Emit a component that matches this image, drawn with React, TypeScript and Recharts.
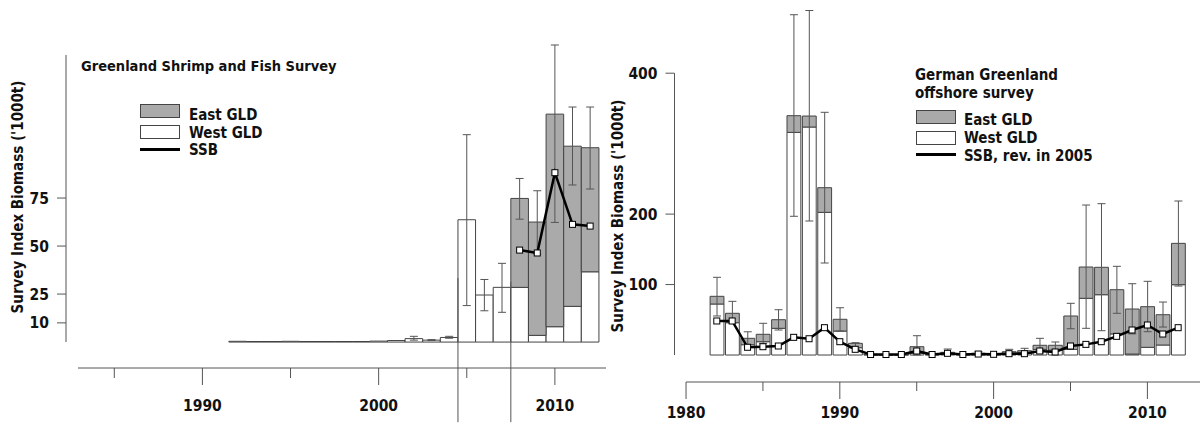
import React from 'react';
import { ComposedChart, Bar, Line, XAxis, YAxis, ErrorBar, ReferenceLine } from 'recharts';

// Greenland Shrimp and Fish Survey (left panel)
const shrimpYears = [1992, 1993, 1994, 1995, 1996, 1997, 1998, 1999, 2000, 2001, 2002, 2003, 2004, 2005, 2006, 2007, 2008, 2009, 2010, 2011, 2012];
const shrimpWest = [0.4, 0.3, 0.3, 0.4, 0.3, 0.3, 0.3, 0.3, 0.5, 0.8, 1.8, 1.0, 2.4, 63.7, 24.5, 28.5, 28.5, 3.5, 8, 18.6, 36.6];
const shrimpEast = [0, 0, 0, 0, 0, 0, 0, 0, 0, 0, 0, 0, 0, 0, 0, 0, 46.3, 59, 110.7, 83.4, 64.6];
const shrimpErrLow = [null, null, null, null, null, null, null, null, null, null, 1.0, 0.8, 2.0, 19, 16.3, 15.5, 64, 45.8, 62.3, 81.8, 79.7];
const shrimpErrHigh = [null, null, null, null, null, null, null, null, null, null, 3.0, 1.3, 3.0, 108, 32.6, 41, 85.2, 78.8, 154.7, 122.4, 122.4];
const shrimpSsb = [null, null, null, null, null, null, null, null, null, null, null, null, null, null, null, null, 47.9, 46.4, 88.2, 61.3, 60.4];

// German Greenland offshore survey (right panel)
const germanYears = [1982, 1983, 1984, 1985, 1986, 1987, 1988, 1989, 1990, 1991, 1992, 1993, 1994, 1995, 1996, 1997, 1998, 1999, 2000, 2001, 2002, 2003, 2004, 2005, 2006, 2007, 2008, 2009, 2010, 2011, 2012];
const germanWest = [72.4, 45.9, 14.6, 18.9, 37.9, 316, 323.6, 202.5, 34, 10.4, 0.5, 0.3, 0.3, 2.4, 0.5, 2, 0.5, 1, 0.5, 2.5, 3.5, 8, 7, 8, 80.5, 85.6, 30, 1.4, 10.9, 14.2, 99.8];
const germanEast = [10.9, 13.3, 9.1, 10.5, 12.2, 23.7, 15.6, 35, 16.7, 6.2, 0.5, 0.5, 0.3, 9.4, 0.5, 1.8, 0.7, 1.5, 0.7, 2.2, 2.6, 5.8, 6.8, 47.4, 44.4, 38.9, 62.7, 63.9, 57.7, 43, 58.7];
const germanErrLow = [55.4, 45, 11, 16.6, 35.5, 196.9, 190.2, 130.6, 34, 9.5, null, null, null, 0, null, 1, null, 0.5, null, 1.5, 2.5, 3, 6, 37.3, 37.9, 34.5, 59.2, 30, 33.1, 39.7, 97.9];
const germanErrHigh = [110.3, 76.2, 33, 45, 64.3, 483, 489, 344.5, 67.1, 17.5, null, null, null, 27.4, null, 8.5, null, 4.7, null, 8.1, 9.5, 23.7, 18.5, 73.4, 212.9, 214.8, 125.9, 101.2, 104.6, 75.2, 218.6];
const germanSsb = [48.3, 48.3, 11, 11.8, 12.8, 25.1, 23.1, 38.8, 18.9, 8.1, 0.7, 0.7, 0.7, 5.7, 0.7, 2.4, 0.7, 1.4, 1, 1.9, 1.9, 5.7, 4.3, 12.8, 15.1, 18.9, 26.5, 35.5, 42.6, 29.8, 38.8];

const FONT = "'DejaVu Sans Condensed', 'DejaVu Sans', sans-serif";
const AXIS = '#555';
const EDGE = '#444';
const GRAY = '#aaaaaa';
const INK = '#111';
const TICK_SIZE = 15.5;

function buildRows(years: number[], west: number[], east: number[], lo: (number | null)[], hi: (number | null)[], ssb: (number | null)[]) {
  return years.map((year, i) => {
    const total = west[i] + east[i];
    const l = lo[i];
    const h = hi[i];
    const err = l == null || h == null ? null : [total - l, h - total];
    // error bar goes on whichever bar forms the top of the stack
    return {
      year,
      west: west[i],
      east: east[i],
      errW: east[i] > 0 ? null : err,
      errE: east[i] > 0 ? err : null,
      ssb: ssb[i],
    };
  });
}

const squareDot = (size: number) => (props: any) => {
  const { cx, cy, index } = props;
  if (cx == null || cy == null || Number.isNaN(cy)) return <g key={`d${index}`} />;
  return (
    <rect key={`d${index}`} x={cx - size / 2} y={cy - size / 2} width={size} height={size}
      fill="#fff" stroke="#000" strokeWidth={1} />
  );
};

const yearTick = (majorLen: number, minorLen: number, labelDy: number) => (props: any) => {
  const { x, y, payload } = props;
  const major = payload.value % 10 === 0;
  return (
    <g>
      <line x1={x} y1={y} x2={x} y2={y + (major ? majorLen : minorLen)} stroke={AXIS} />
      {major && (
        <text x={x} y={y + labelDy} textAnchor="middle" fontFamily={FONT} fontWeight="bold" fontSize={TICK_SIZE} fill={INK}>
          {payload.value}
        </text>
      )}
    </g>
  );
};

interface PanelProps {
  rows: any[];
  width: number;
  height: number;
  margin: { top: number; right: number; bottom: number; left: number };
  yAxisWidth: number;
  xAxisHeight: number;
  xDomain: [number, number];
  yDomain: [number, number];
  xTicks: number[];
  yTicks: number[];
  xAxisStart: number;
  yAxisTop: number;
  barSize: number;
  majorLen: number;
  minorLen: number;
  labelDy: number;
  dotSize: number;
  extraLines?: Array<[number, number, number]>;
}

function SurveyPanel(p: PanelProps) {
  const [x0, x1] = p.xDomain;
  const [y0] = p.yDomain;
  return (
    <ComposedChart width={p.width} height={p.height} data={p.rows} margin={p.margin} barCategoryGap={0} barGap={0}>
      <XAxis
        dataKey="year"
        type="number"
        domain={p.xDomain}
        allowDataOverflow
        ticks={p.xTicks}
        height={p.xAxisHeight}
        axisLine={false}
        tickLine={false}
        tickSize={0}
        tickMargin={0}
        interval={0}
        tick={yearTick(p.majorLen, p.minorLen, p.labelDy)}
      />
      <YAxis
        type="number"
        domain={p.yDomain}
        allowDataOverflow
        ticks={p.yTicks}
        width={p.yAxisWidth}
        axisLine={false}
        tickLine={{ stroke: AXIS }}
        tickSize={9}
        tickMargin={8}
        interval={0}
        tick={{ fontFamily: FONT, fontWeight: 'bold', fontSize: TICK_SIZE, fill: INK }}
      />
      <ReferenceLine segment={[{ x: x0, y: 0 }, { x: x0, y: p.yAxisTop }]} stroke={AXIS} ifOverflow="visible" />
      <ReferenceLine segment={[{ x: p.xAxisStart, y: y0 }, { x: x1, y: y0 }]} stroke={AXIS} ifOverflow="visible" />
      <Bar dataKey="west" stackId="s" fill="#fff" stroke={EDGE} strokeWidth={1} barSize={p.barSize} isAnimationActive={false}>
        <ErrorBar dataKey="errW" direction="y" width={4} stroke="#555" strokeWidth={1} isAnimationActive={false} />
      </Bar>
      <Bar dataKey="east" stackId="s" fill={GRAY} stroke={EDGE} strokeWidth={1} barSize={p.barSize} isAnimationActive={false}>
        <ErrorBar dataKey="errE" direction="y" width={4} stroke="#555" strokeWidth={1} isAnimationActive={false} />
      </Bar>
      {(p.extraLines || []).map(([x, ya, yb], i) => (
        <ReferenceLine key={`a${i}`} segment={[{ x, y: ya }, { x, y: yb }]} stroke="#555" ifOverflow="visible" />
      ))}
      <Line
        dataKey="ssb"
        type="linear"
        stroke="#000"
        strokeWidth={2.5}
        dot={squareDot(p.dotSize)}
        activeDot={false}
        connectNulls={false}
        isAnimationActive={false}
      />
    </ComposedChart>
  );
}

const textStyle = (x: number, cy: number, size = 14.5): React.CSSProperties => ({
  position: 'absolute',
  left: x,
  top: cy - size / 2,
  fontSize: size,
  lineHeight: `${size}px`,
  fontFamily: FONT,
  fontWeight: 'bold',
  color: INK,
  whiteSpace: 'nowrap',
});

const boxStyle = (x: number, y: number, fill: string): React.CSSProperties => ({
  position: 'absolute',
  left: x,
  top: y,
  width: 38,
  height: 12,
  background: fill,
  border: `1px solid ${EDGE}`,
});

const lineStyle = (x: number, y: number): React.CSSProperties => ({
  position: 'absolute',
  left: x,
  top: y - 1.5,
  width: 40,
  height: 3,
  background: '#000',
});

const yTitle = (cx: number, cy: number): React.CSSProperties => ({
  position: 'absolute',
  left: cx,
  top: cy,
  transform: 'translate(-50%, -50%) rotate(-90deg)',
  fontSize: 15,
  lineHeight: '15px',
  fontFamily: FONT,
  fontWeight: 'bold',
  color: INK,
  whiteSpace: 'nowrap',
});

export default function App() {
  const shrimpRows = buildRows(shrimpYears, shrimpWest, shrimpEast, shrimpErrLow, shrimpErrHigh, shrimpSsb);
  const germanRows = buildRows(germanYears, germanWest, germanEast, germanErrLow, germanErrHigh, germanSsb);

  return (
    <div style={{ position: 'absolute', left: 0, top: 0, width: 1202, height: 428, background: '#fff', overflow: 'hidden' }}>
      <div style={{ position: 'absolute', left: 0, top: 0 }}>
        <SurveyPanel
          rows={shrimpRows}
          width={620}
          height={428}
          margin={{ top: 40, right: 14, bottom: 0, left: 0 }}
          yAxisWidth={66}
          xAxisHeight={60}
          xDomain={[1982.26, 2012.9]}
          yDomain={[-13.5, 157.3]}
          xTicks={[1985, 1990, 1995, 2000, 2005, 2010]}
          yTicks={[10, 25, 50, 75]}
          xAxisStart={1982.94}
          yAxisTop={149.5}
          barSize={17.6}
          majorLen={17}
          minorLen={10}
          labelDy={43}
          dotSize={6}
          extraLines={[[2004.5, 33.3, -41.7], [2007.5, 31.4, -41.7]]}
        />
      </div>
      <div style={{ position: 'absolute', left: 600, top: 0 }}>
        <SurveyPanel
          rows={germanRows}
          width={602}
          height={428}
          margin={{ top: 5, right: 2, bottom: 0, left: 0 }}
          yAxisWidth={74.5}
          xAxisHeight={46}
          xDomain={[1979.25, 2013.42]}
          yDomain={[-38.3, 496.8]}
          xTicks={[1980, 1985, 1990, 1995, 2000, 2005, 2010]}
          yTicks={[100, 200, 400]}
          xAxisStart={1980}
          yAxisTop={400}
          barSize={15.38}
          majorLen={17}
          minorLen={9}
          labelDy={36}
          dotSize={6}
        />
      </div>

      <div style={yTitle(18, 197)}>Survey Index Biomass ('1000t)</div>
      <div style={yTitle(618, 216)}>Survey Index Biomass ('1000t)</div>

      <div style={textStyle(81, 66)}>Greenland Shrimp and Fish Survey</div>
      <div style={boxStyle(140, 104, GRAY)} />
      <div style={textStyle(189, 115, 15)}>East GLD</div>
      <div style={boxStyle(140, 125, '#fff')} />
      <div style={textStyle(189, 133, 15)}>West GLD</div>
      <div style={lineStyle(140, 149)} />
      <div style={textStyle(189, 150, 15)}>SSB</div>

      <div style={textStyle(915, 75, 15)}>German Greenland</div>
      <div style={textStyle(915, 93, 15)}>offshore survey</div>
      <div style={boxStyle(916, 110, GRAY)} />
      <div style={textStyle(964, 120, 15)}>East GLD</div>
      <div style={boxStyle(916, 131, '#fff')} />
      <div style={textStyle(964, 138, 15)}>West GLD</div>
      <div style={lineStyle(916, 154)} />
      <div style={textStyle(964, 156, 15)}>SSB, rev. in 2005</div>
    </div>
  );
}
